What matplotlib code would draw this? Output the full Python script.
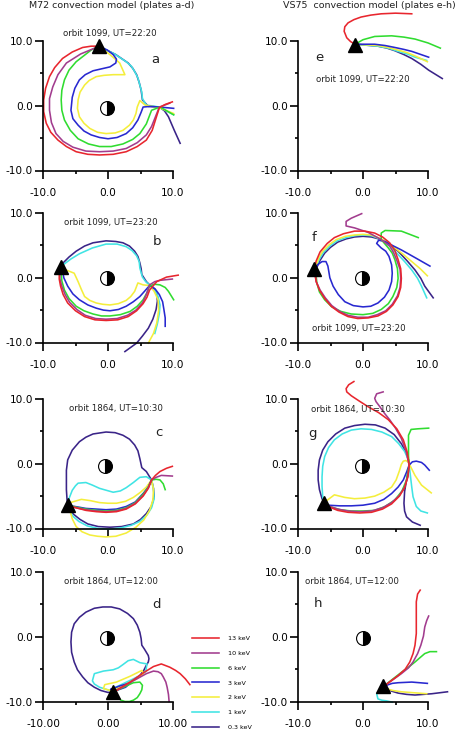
import matplotlib.pyplot as plt

plt.rcParams['font.family'] = ['DejaVu Sans']

ENERGIES = ["13 keV", "10 keV", "6 keV", "3 keV", "2 keV", "1 keV", "0.3 keV"]
COLOURS = ["#e8262e", "#a23c8e", "#30dc30", "#2828d0", "#f4ee3c", "#40e4e4", "#3a2488"]
DRAW_ORDER = ["0.3 keV", "1 keV", "2 keV", "3 keV", "6 keV", "10 keV", "13 keV"]

TICKS = [-10, 0, 10]
TICK_LABELS = ["-10.0", "0.0", "10.0"]
TICK_LABELS_D = ["-10.00", "0.00", "10.00"]
Y_TICK_LABELS = ["-10.0", "0.0", "10.0"]

# M72 model, plates a-d
panel_a = {
    "13 keV": ([-1.4, -2.6, -3.9, -5.5, -7.0, -8.2, -9.0, -9.6, -9.9, -9.9, -9.5, -8.8, -7.7, -6.4, -4.9,
                -3.1, -1.3, 0.8, 2.8, 4.5, 5.9, 6.8, 7.3, 7.9, 8.8, 9.9],
               [9.2, 9.2, 9.0, 8.3, 7.3, 5.9, 4.5, 2.7, 0.9, -0.9, -2.7, -4.1, -5.3, -6.3, -7.1,
                -7.5, -7.6, -7.5, -7.1, -6.3, -5.3, -3.8, -2.2, -0.3, 0.2, 0.6]),
    "10 keV": ([-1.4, -1.8, -4.2, -6.4, -7.7, -8.5, -9.0, -9.0, -8.7, -8.0, -6.9, -5.4, -3.4, -1.3, 0.8,
                2.8, 4.5, 5.9, 6.7, 7.1, 7.9, 9.5],
               [9.2, 9.0, 8.0, 6.6, 4.8, 2.9, 1.1, -0.7, -2.6, -4.3, -5.5, -6.4, -7.0, -7.1, -7.0,
                -6.6, -5.7, -4.5, -3.2, -2.2, -0.2, 0.4]),
    "6 keV": ([-1.4, -2.6, -4.9, -6.0, -6.7, -7.1, -7.2, -7.1, -6.7, -5.8, -4.6, -3.0, -1.3, 0.5, 2.3,
               3.8, 4.9, 5.9, 6.7, 8.0, 10.1],
              [9.2, 8.6, 6.8, 5.5, 4.0, 2.4, 0.9, -0.7, -2.2, -3.8, -5.1, -5.9, -6.3, -6.3, -5.9,
               -5.2, -4.3, -2.8, -0.7, -0.2, -1.4]),
    "3 keV": ([-1.4, -0.1, 0.8, 1.3, 1.2, 0.3, -1.0, -2.3, -3.5, -4.4, -5.1, -5.5, -5.7, -5.4, -4.6,
               -3.7, -2.6, -1.3, 0.0, 1.4, 2.8, 3.8, 4.6, 5.1, 5.4, 6.5, 7.9, 10.1],
              [9.2, 8.6, 7.9, 7.2, 6.6, 6.0, 5.7, 5.4, 4.8, 4.0, 2.7, 1.3, -0.7, -2.0, -3.0,
               -3.9, -4.5, -4.9, -5.1, -4.9, -4.3, -3.4, -2.2, -1.0, -0.2, -0.1, -0.2, -0.4]),
    "2 keV": ([-1.4, 0.3, 1.8, 2.6, 0.8, -0.6, -1.8, -2.9, -3.6, -4.3, -4.6, -4.7, -4.4, -3.7, -2.8,
               -1.6, -0.3, 1.1, 2.3, 3.3, 3.9, 4.3, 4.5, 4.9, 5.7, 7.9, 10.1],
              [9.2, 7.9, 6.6, 4.8, 4.8, 4.7, 4.5, 3.9, 3.2, 2.1, 0.9, -0.4, -1.7, -2.7, -3.5,
               -4.1, -4.3, -4.2, -3.8, -3.0, -2.2, -1.2, -0.2, 0.8, 0.1, -0.3, -1.2]),
    "1 keV": ([-1.4, 1.0, 2.8, 3.6, 4.1, 4.6, 4.9, 5.2, 5.3, 5.9, 7.9, 10.1],
              [9.2, 8.0, 6.8, 6.1, 5.3, 4.3, 3.2, 2.1, 1.1, 0.1, -0.2, -1.4]),
    "0.3 keV": ([-1.4, 1.2, 3.1, 3.8, 4.4, 4.8, 5.1, 5.3, 6.2, 7.9, 8.7, 9.3, 10.2, 11.1],
                [9.2, 7.9, 6.6, 5.8, 4.8, 3.6, 2.4, 0.9, -0.1, -0.2, -0.8, -1.7, -3.8, -5.8]),
}
start_a = (-1.4, 9.3)

panel_b = {
    "13 keV": ([-7.2, -7.5, -7.5, -7.3, -6.9, -6.2, -5.0, -3.6, -2.0, -0.3, 1.5, 3.1, 4.4, 5.4, 6.0,
                6.4, 7.5, 9.0, 10.8],
               [1.6, 1.0, -0.2, -1.3, -2.6, -3.9, -5.1, -6.0, -6.5, -6.6, -6.5, -6.0, -5.1, -4.0, -3.0,
                -1.9, -0.6, 0.1, 0.4]),
    "10 keV": ([-7.2, -7.4, -7.4, -7.1, -6.6, -5.9, -4.8, -3.5, -1.9, -0.3, 1.4, 3.0, 4.3, 5.3, 5.9,
                6.4, 7.2, 8.0, 9.9],
               [1.6, 1.0, -0.2, -1.3, -2.6, -3.8, -4.9, -5.8, -6.3, -6.4, -6.3, -5.8, -5.0, -3.9, -2.6,
                -1.1, -0.6, -0.4, -0.2]),
    "6 keV": ([-7.2, -7.2, -7.1, -6.7, -6.0, -4.9, -3.7, -2.3, -1.0, 0.3, 1.9, 3.4, 4.5, 5.4, 6.0,
               6.4, 7.1, 8.0, 8.8, 9.3, 10.1],
              [1.6, 1.0, -0.5, -1.9, -3.2, -4.4, -5.1, -5.6, -5.9, -5.9, -5.7, -5.2, -4.4, -3.4, -2.3,
               -1.3, -1.0, -1.1, -1.5, -2.1, -3.4]),
    "3 keV": ([-7.2, -7.0, -6.8, -6.2, -5.4, -4.4, -3.1, -1.8, -0.7, 0.3, 1.6, 2.8, 3.9, 4.9, 5.7,
               6.4, 7.3, 7.9, 8.4, 8.6, 8.8, 8.8],
              [1.6, 1.2, 0.0, -1.3, -2.5, -3.4, -4.2, -4.7, -5.0, -5.1, -4.9, -4.4, -3.7, -2.9, -2.0,
               -1.2, -1.8, -2.6, -3.7, -4.9, -6.2, -7.5]),
    "2 keV": ([-7.2, -6.7, -5.2, -4.6, -4.1, -3.6, -2.8, -1.8, -0.8, 0.3, 1.6, 2.8, 3.5, 4.1, 4.6,
               5.4, 6.4, 7.1, 7.7, 7.8, 7.5, 7.0, 6.2],
              [1.6, 1.3, 0.7, -0.6, -1.8, -2.9, -3.5, -3.9, -4.1, -4.2, -4.0, -3.5, -2.9, -2.1, -0.8,
               -1.1, -1.2, -2.1, -3.4, -5.0, -7.0, -8.6, -10.1]),
    "1 keV": ([-7.2, -6.9, -5.7, -4.4, -2.4, -0.3, 1.4, 2.8, 3.7, 4.4, 4.8, 4.9, 5.3, 5.8, 6.4, 7.2,
               7.7, 8.0, 7.9, 7.6, 7.2],
              [1.6, 2.0, 2.9, 3.7, 4.6, 5.2, 5.2, 4.8, 4.2, 3.4, 2.5, 1.5, 0.1, -0.6, -1.1, -1.8,
               -2.9, -4.2, -5.5, -7.1, -8.6]),
    "0.3 keV": ([-7.2, -7.0, -6.0, -4.9, -3.6, -2.3, -0.3, 1.2, 2.3, 3.3, 4.1, 4.6, 4.9, 5.1, 5.2,
                 5.9, 6.4, 7.2, 7.5, 7.6, 7.4, 6.9, 6.2, 5.3, 4.4, 2.6],
                [1.6, 2.2, 3.2, 4.1, 4.9, 5.4, 5.7, 5.6, 5.4, 4.9, 4.1, 3.3, 2.3, 1.4, 0.5,
                 -0.6, -1.1, -1.7, -2.4, -3.6, -4.9, -6.4, -7.8, -9.0, -10.1, -11.4]),
}
start_b = (-7.2, 1.6)

panel_c = {
    "13 keV": ([-6.2, -5.7, -4.5, -3.4, -1.8, -0.3, 1.3, 2.8, 4.2, 5.4, 6.2, 6.7, 7.3, 8.0, 9.0, 9.9],
               [-6.3, -6.6, -6.9, -7.2, -7.4, -7.5, -7.4, -7.0, -6.2, -5.0, -3.8, -2.5, -1.8, -1.2, -0.7, -0.4]),
    "10 keV": ([-6.2, -5.7, -4.5, -3.4, -1.8, -0.3, 1.3, 2.8, 4.2, 5.4, 6.2, 6.7, 7.4, 8.2, 9.9],
               [-6.3, -6.6, -6.9, -7.1, -7.3, -7.4, -7.3, -6.9, -6.1, -4.9, -3.7, -2.5, -2.1, -1.8, -1.9]),
    "6 keV": ([-6.2, -5.7, -4.5, -3.4, -1.8, -0.3, 1.3, 2.8, 4.2, 5.4, 6.2, 6.7, 7.4, 8.0, 8.5, 8.8],
              [-6.3, -6.5, -6.8, -7.0, -7.2, -7.3, -7.2, -6.8, -6.0, -4.7, -3.6, -2.5, -2.4, -2.5, -3.1, -4.0]),
    "3 keV": ([-6.2, -5.7, -4.5, -3.4, -1.8, -0.3, 1.3, 2.8, 4.2, 5.4, 6.2, 6.7],
              [-6.3, -6.5, -6.7, -6.9, -7.0, -7.1, -7.0, -6.6, -5.9, -4.6, -3.6, -2.5]),
    "2 keV": ([-6.2, -5.8, -4.1, -2.7, -1.3, 0.0, 1.3, 2.7, 3.9, 5.0, 5.9, 6.7, 7.0, 6.9, 6.4, 5.5, 4.3,
               2.8, 1.2, -0.3, -1.6, -2.8, -4.0, -4.9, -5.5, -5.9, -6.2],
              [-6.3, -6.0, -5.5, -5.7, -6.0, -6.1, -6.1, -5.8, -5.2, -4.4, -3.6, -2.5, -4.0, -5.6, -7.2, -8.7, -9.8,
               -10.7, -11.2, -11.3, -11.2, -11.0, -10.5, -9.7, -8.5, -7.1, -6.3]),
    "1 keV": ([-6.2, -6.2, -5.5, -5.0, -4.6, -3.4, -2.4, -1.3, 0.8, 1.9, 2.8, 3.9, 4.9, 5.9, 6.7, 7.0,
               7.1, 6.7, 6.0, 4.9, 3.6, 2.0, 0.3, -1.5, -3.2, -4.5, -5.4, -5.9, -6.1, -6.2],
              [-6.3, -5.9, -4.1, -3.4, -3.0, -2.9, -3.3, -3.8, -4.4, -4.2, -3.7, -2.9, -2.1, -2.0, -2.5, -3.9,
               -5.4, -6.8, -7.9, -8.9, -9.5, -9.9, -10.1, -10.0, -9.6, -8.9, -8.1, -7.3, -6.7, -6.3]),
    "0.3 keV": ([-6.2, -6.3, -6.4, -6.4, -6.4, -6.2, -5.5, -4.4, -3.4, -2.3, -0.3, 1.1, 2.3, 3.3, 4.1,
                 4.6, 4.9, 5.2, 5.9, 6.7, 7.0, 7.1, 6.7, 5.9, 5.0, 3.9, 2.1, 0.3, -1.5, -3.1, -4.3,
                 -5.3, -5.9, -6.2],
                [-6.3, -5.6, -4.0, -2.5, -1.0, 0.6, 2.1, 3.4, 4.1, 4.6, 4.9, 4.8, 4.4, 3.8, 2.9,
                 2.0, 0.8, -0.6, -1.2, -2.5, -3.8, -5.1, -6.5, -7.7, -8.6, -9.3, -9.7, -9.8, -9.7, -9.3, -8.6,
                 -7.8, -7.0, -6.4]),
}
start_c = (-6.2, -6.3)

panel_d = {
    "13 keV": ([0.8, 1.3, 3.4, 5.4, 7.0, 8.2, 9.5, 10.4, 11.1, 11.9, 12.6],
               [-8.5, -8.3, -7.0, -5.6, -4.6, -4.2, -4.7, -5.2, -5.7, -6.5, -7.4]),
    "10 keV": ([0.8, 1.3, 3.9, 5.9, 7.0, 7.7, 8.2, 8.5, 8.9, 9.1, 9.3, 9.4],
               [-8.5, -8.3, -6.8, -5.7, -5.3, -5.4, -5.7, -6.2, -7.0, -7.8, -8.9, -10.0]),
    "6 keV": ([0.8, 1.0, 1.5, 2.0, 2.6, 3.3, 3.9, 4.5, 4.9, 5.2, 5.3, 4.9, 3.9, 2.8, 1.3, 0.8],
              [-8.5, -8.6, -9.3, -9.8, -10.0, -10.0, -9.8, -9.4, -8.8, -8.2, -7.5, -7.0, -7.1, -7.6, -8.3, -8.5]),
    "3 keV": ([0.5, 1.8, 3.5, 2.7, 1.0, 0.5],
              [-8.1, -7.6, -7.1, -7.8, -8.4, -8.1]),
    "2 keV": ([0.3, -0.7, -0.5, 1.3, 3.4, 5.2, 5.5, 4.4, 2.8, 1.0, 0.3],
              [-8.3, -8.0, -7.4, -7.0, -6.1, -5.2, -5.7, -6.5, -7.3, -8.1, -8.3]),
    "1 keV": ([0.3, -1.3, -2.1, -2.4, -2.1, -0.7, 0.8, 1.6, 2.3, 3.1, 3.9, 4.9, 6.0, 5.8, 4.9, 3.9, 1.8,
               0.5, 0.3],
              [-8.3, -7.8, -7.3, -6.8, -5.7, -5.3, -5.1, -4.8, -4.3, -3.7, -3.5, -4.0, -4.2, -5.4, -6.0, -6.5,
               -7.5, -8.1, -8.3]),
    "0.3 keV": ([0.8, 0.0, -1.1, -2.1, -3.1, -3.9, -4.7, -5.2, -5.6, -5.7, -5.6, -5.2, -4.4, -3.4, -2.1,
                 -0.8, 0.5, 1.8, 3.0, 3.9, 4.5, 4.9, 5.1, 5.2, 5.6, 5.9, 6.2, 6.3, 6.2, 5.9, 5.5,
                 4.9, 3.9, 2.8, 1.8, 1.0, 0.8],
                [-8.5, -8.6, -8.3, -7.8, -7.1, -6.2, -5.1, -3.9, -2.4, -0.8, 0.7, 2.0, 3.0, 3.8, 4.4,
                 4.6, 4.6, 4.3, 3.6, 2.8, 1.8, 0.7, -0.3, -1.3, -1.9, -2.4, -2.9, -3.4, -3.9, -4.4, -5.2,
                 -6.0, -6.7, -7.3, -7.8, -8.3, -8.5]),
}
start_d = (0.8, -8.5)

# VS75 model, plates e-h
panel_e = {
    "13 keV": ([-1.2, -1.9, -2.5, -2.9, -2.8, -2.3, -1.4, -0.3, 1.2, 2.8, 5.0, 7.5],
               [9.5, 9.9, 10.5, 11.5, 12.2, 12.8, 13.3, 13.7, 14.0, 14.2, 14.3, 14.2]),
    "6 keV": ([-1.2, 0.0, 1.8, 4.4, 6.3, 8.0, 10.0, 11.9],
              [9.5, 10.2, 10.7, 10.8, 10.6, 10.3, 9.7, 8.9]),
    "3 keV": ([-1.2, 1.8, 3.4, 4.9, 6.3, 7.5, 10.1],
              [9.5, 9.5, 9.3, 9.0, 8.7, 8.4, 7.5]),
    "2 keV": ([-1.2, 2.3, 3.9, 5.4, 6.8, 8.0, 9.9],
              [9.5, 9.3, 9.0, 8.6, 8.2, 7.7, 6.8]),
    "1 keV": ([-1.2, 2.3, 3.9, 5.4, 6.8, 8.0, 9.8],
              [9.5, 9.2, 8.9, 8.4, 8.0, 7.5, 7.0]),
    "0.3 keV": ([-1.2, 2.3, 3.7, 4.9, 6.3, 7.5, 8.9, 10.1, 12.2],
                [9.5, 9.2, 8.9, 8.5, 7.9, 7.3, 6.4, 5.5, 4.2]),
}
start_e = (-1.2, 9.4)

panel_f = {
    "13 keV": ([-7.5, -7.2, -6.6, -5.5, -4.4, -3.0, -1.3, 0.3, 1.8, 3.0, 4.1, 4.9, 5.4, 5.8, 5.9, 5.8,
                5.4, 4.6, 3.6, 2.3, 0.8, -0.8, -2.3, -3.7, -4.9, -5.9, -6.7, -7.2, -7.4, -7.5],
               [1.4, 2.6, 4.0, 5.3, 6.2, 6.8, 7.2, 7.2, 6.9, 6.3, 5.4, 4.2, 2.8, 1.4, -0.1, -1.5,
                -2.9, -4.2, -5.2, -5.9, -6.2, -6.3, -6.0, -5.3, -4.4, -3.2, -1.9, -0.6, 0.7, 1.4]),
    "10 keV": ([-7.5, -7.4, -7.2, -6.6, -5.8, -4.8, -3.6, -2.3, -0.8, 0.8, 2.2, 3.5, 4.5, 5.3, 5.7,
                5.8, 5.7, 5.2, 4.7, 4.1, 2.8, 0.8, -1.3, -2.6, -2.6, -1.8, -0.2],
               [1.4, 0.7, -0.6, -1.9, -3.1, -4.3, -5.2, -5.8, -6.1, -6.1, -5.7, -5.1, -4.1, -2.8, -1.5,
                -0.1, 1.3, 2.7, 3.9, 4.9, 5.9, 7.0, 7.7, 8.0, 8.7, 9.2, 9.9]),
    "6 keV": ([-7.5, -7.2, -7.2, -7.1, -6.7, -5.9, -4.8, -3.4, -1.8, 0.0, 1.5, 2.8, 3.9, 4.6, 5.2,
               5.4, 5.3, 4.9, 4.5, 3.9, 2.8, 2.8, 3.4, 5.9, 8.5],
              [1.4, 1.2, 0.2, -0.8, -2.2, -3.4, -4.5, -5.2, -5.6, -5.7, -5.5, -4.9, -4.0, -2.9, -1.5,
               -0.1, 1.4, 2.8, 3.8, 4.6, 5.9, 6.9, 7.3, 7.2, 6.2]),
    "3 keV": ([-7.5, -7.0, -6.3, -5.7, -5.4, -5.3, -5.1, -4.6, -3.8, -2.8, -1.5, 0.0, 1.2, 2.3, 3.3,
               4.0, 4.4, 4.5, 4.4, 4.0, 3.5, 2.8, 2.1, 2.4, 3.4, 4.7, 5.9, 8.2, 10.3],
              [1.4, 2.0, 2.5, 2.5, 1.8, 1.2, 0.0, -1.3, -2.6, -3.7, -4.3, -4.5, -4.4, -3.9, -3.0,
               -1.9, -0.6, 0.7, 2.0, 3.3, 4.1, 4.6, 5.3, 5.8, 5.6, 4.9, 4.3, 3.0, 1.8]),
    "2 keV": ([-7.5, -7.2, -6.8, -6.2, -5.2, -4.1, -2.7, -1.3, 0.0, 1.3, 2.8, 3.9, 4.9, 6.2, 7.5, 8.8, 9.9],
              [1.4, 1.9, 3.1, 4.1, 5.1, 5.9, 6.4, 6.6, 6.7, 6.6, 6.0, 5.4, 4.6, 3.6, 2.5, 1.4, 0.3]),
    "1 keV": ([-7.5, -7.2, -6.7, -6.1, -5.1, -4.0, -2.6, -1.3, 0.0, 1.3, 2.8, 4.1, 5.2, 6.4, 7.5, 8.4,
               9.0, 9.8],
              [1.4, 1.8, 2.9, 3.9, 4.9, 5.7, 6.2, 6.5, 6.6, 6.5, 5.9, 4.9, 3.8, 2.5, 1.2, -0.1,
               -1.3, -3.1]),
    "0.3 keV": ([-7.5, -7.1, -6.6, -5.9, -5.0, -3.9, -2.6, -1.3, 0.0, 1.3, 2.8, 4.2, 5.4, 6.8, 8.0, 8.9,
                 9.5, 10.8],
                [1.4, 1.6, 2.7, 3.8, 4.7, 5.5, 6.0, 6.3, 6.4, 6.3, 5.9, 5.0, 4.1, 2.6, 1.2, -0.1,
                 -1.3, -3.1]),
}
start_f = (-7.5, 1.4)

panel_g = {
    "13 keV": ([-6.0, -5.4, -3.9, -2.3, -0.5, 1.3, 3.0, 4.4, 5.6, 6.4, 6.9, 7.1, 6.8, 6.2, 5.2, 3.9,
                2.4, 0.8, -0.6, -1.8, -2.5, -2.6, -2.2, -1.4],
               [-6.0, -6.6, -7.2, -7.5, -7.6, -7.5, -7.0, -6.2, -5.0, -3.7, -2.0, -0.2, 1.8, 3.7, 5.4, 6.8,
                7.9, 8.8, 9.7, 10.5, 11.1, 11.6, 12.2, 12.7]),
    "10 keV": ([-6.0, -5.4, -3.9, -2.3, -0.5, 1.3, 3.0, 4.4, 5.6, 6.4, 6.9, 7.1, 6.6, 5.9, 5.0, 4.1,
                3.3, 2.6, 2.0, 1.8, 2.1, 3.1],
               [-6.0, -6.5, -7.0, -7.3, -7.4, -7.3, -6.8, -6.0, -4.9, -3.6, -2.0, -0.2, 2.0, 3.9, 5.5, 6.8,
                7.8, 8.8, 9.6, 10.1, 10.8, 11.1]),
    "6 keV": ([-6.0, -5.2, -3.5, -1.8, 0.0, 1.8, 3.4, 4.9, 6.0, 6.7, 7.1, 7.0, 7.0, 7.0, 7.4, 8.5, 10.1],
              [-6.0, -6.6, -7.1, -7.3, -7.3, -7.2, -6.6, -5.6, -4.2, -2.5, -0.2, 1.2, 2.6, 4.4, 5.3, 5.4, 5.5]),
    "3 keV": ([-6.0, -5.4, -3.6, -1.8, 0.0, 1.8, 3.2, 4.4, 5.4, 6.2, 6.7, 7.1, 7.6, 8.2, 9.0, 9.5, 10.2],
              [-6.0, -6.4, -6.5, -6.5, -6.4, -6.1, -5.5, -4.6, -3.6, -2.5, -1.3, -0.2, 0.3, 0.4, 0.2, -0.2, -1.0]),
    "2 keV": ([-6.0, -5.2, -4.4, -2.8, -1.3, 0.3, 1.8, 3.2, 4.4, 5.1, 5.6, 5.9, 6.2, 6.6, 7.0, 7.5,
               8.0, 9.0, 10.5],
              [-6.0, -5.4, -4.8, -5.2, -5.4, -5.3, -5.0, -4.4, -3.6, -2.5, -1.1, -0.1, 0.4, 0.5, 0.2, -0.8,
               -1.8, -3.3, -4.5]),
    "1 keV": ([-6.0, -6.2, -6.3, -6.3, -6.2, -5.9, -5.3, -4.4, -3.2, -1.8, -0.3, 1.3, 2.9, 4.4, 5.5,
               6.4, 6.9, 7.1, 7.3, 7.5, 7.7, 8.2, 8.9, 9.9],
              [-6.0, -5.1, -3.5, -2.0, -0.4, 1.1, 2.5, 3.7, 4.6, 5.2, 5.4, 5.3, 4.9, 4.2, 3.1,
               1.9, 0.8, -0.2, -1.9, -3.6, -5.1, -6.6, -7.3, -7.6]),
    "0.3 keV": ([-6.0, -6.3, -6.7, -6.9, -6.9, -6.7, -6.2, -5.4, -4.2, -2.8, -1.3, 0.3, 1.9, 3.4, 4.8,
                 5.9, 6.6, 7.0, 7.1, 6.9, 6.7, 6.4, 6.3, 6.4, 6.7, 7.6, 8.8],
                [-6.0, -5.4, -4.0, -2.5, -1.0, 0.6, 2.1, 3.4, 4.6, 5.5, 5.9, 6.1, 6.0, 5.5, 4.5,
                 3.1, 1.8, 0.6, -0.2, -1.4, -2.5, -4.3, -6.1, -7.3, -8.2, -9.0, -9.5]),
}
start_g = (-6.0, -6.0)

panel_h = {
    "13 keV": ([3.0, 3.4, 5.4, 6.5, 7.2, 7.7, 8.0, 8.2, 8.2, 8.2, 8.4, 8.8],
               [-7.6, -7.5, -6.0, -5.0, -3.9, -2.6, -1.3, 0.5, 2.3, 5.4, 6.6, 7.2]),
    "10 keV": ([3.0, 3.4, 5.9, 7.0, 7.7, 8.4, 8.9, 9.3, 9.5, 9.8, 10.1],
               [-7.6, -7.5, -5.7, -4.8, -3.9, -2.6, -1.3, 0.1, 1.5, 2.5, 3.2]),
    "6 keV": ([3.0, 3.6, 5.9, 7.0, 8.0, 8.8, 9.5, 10.3, 11.3],
              [-7.6, -7.3, -5.5, -4.7, -3.9, -3.2, -2.6, -2.3, -2.3]),
    "3 keV": ([3.0, 3.6, 4.5, 5.4, 7.5, 9.9],
              [-7.6, -7.5, -7.2, -7.1, -7.0, -7.2]),
    "2 keV": ([3.0, 3.5, 4.6, 5.9, 7.2, 8.5, 9.8],
              [-7.6, -8.0, -8.3, -8.5, -8.6, -8.7, -8.8]),
    "1 keV": ([3.0, 3.1, 2.5, 2.1, 2.3, 2.9, 3.6, 4.5],
              [-7.6, -8.1, -8.4, -8.8, -9.6, -9.8, -9.9, -10.1]),
    "0.3 keV": ([3.0, 3.4, 4.4, 5.4, 6.7, 8.0, 10.6, 13.0],
                [-7.6, -7.9, -8.4, -8.7, -8.9, -9.0, -8.8, -8.5]),
}
start_h = (3.0, -7.6)

EARTH = {"a": (-0.2, -0.4), "b": (-0.1, 0.0), "c": (-0.4, -0.3), "d": (-0.2, -0.2),
         "f": (-0.1, 0.0), "g": (-0.1, -0.4), "h": (0.0, -0.2)}

ORBIT = {"a": "orbit 1099, UT=22:20", "b": "orbit 1099, UT=23:20",
         "c": "orbit 1864, UT=10:30", "d": "orbit 1864, UT=12:00",
         "e": "orbit 1099, UT=22:20", "f": "orbit 1099, UT=23:20",
         "g": "orbit 1864, UT=10:30", "h": "orbit 1864, UT=12:00"}
ORBIT_POS = {"a": (0.3, 11.1, "center"), "b": (0.4, 8.6, "center"),
             "c": (1.2, 8.6, "center"), "d": (0.5, 8.6, "center"),
             "e": (-7.3, 4.0, "left"), "f": (-7.8, -7.8, "left"),
             "g": (-8.0, 8.4, "left"), "h": (-8.9, 8.6, "left")}
LETTER_POS = {"a": (7.3, 7.2), "b": (7.6, 5.6), "c": (7.8, 4.8), "d": (7.4, 5.0),
              "e": (-6.7, 7.5), "f": (-7.6, 6.2), "g": (-7.8, 4.7), "h": (-7.0, 5.2)}

W, H = 469, 753
fig = plt.figure(figsize=(W / 100, H / 100), dpi=100)

row_top = [41, 213, 399, 572]
col_left = [43, 298]
panels = {"a": (0, 0, panel_a, start_a), "b": (0, 1, panel_b, start_b),
          "c": (0, 2, panel_c, start_c), "d": (0, 3, panel_d, start_d),
          "e": (1, 0, panel_e, start_e), "f": (1, 1, panel_f, start_f),
          "g": (1, 2, panel_g, start_g), "h": (1, 3, panel_h, start_h)}

axes = {}
for key, (col, row, curves, start) in panels.items():
    left = col_left[col] / W
    bottom = 1 - (row_top[row] + 129.5) / H
    ax = fig.add_axes([left, bottom, 130 / W, 129.5 / H])
    axes[key] = ax
    ax.set_xlim(-10, 10)
    ax.set_ylim(-10, 10)
    ax.patch.set_visible(False)
    for s in ["top", "right"]:
        ax.spines[s].set_visible(False)
    for s in ["left", "bottom"]:
        ax.spines[s].set_linewidth(1.2)
    ax.set_xticks(TICKS)
    ax.set_xticklabels(TICK_LABELS_D if key == "d" else TICK_LABELS)
    ax.set_yticks(TICKS)
    ax.set_yticklabels(Y_TICK_LABELS)
    ax.set_xticks([-5, 5], minor=True)
    ax.set_yticks([-5, 5], minor=True)
    ax.tick_params(which="major", direction="out", length=5.8, width=1.2, labelsize=7.6)
    ax.tick_params(which="minor", direction="out", length=2.4, width=1.2)
    ax.tick_params(axis="x", which="major", pad=7)
    ax.tick_params(axis="y", which="major", pad=1.5)

    for name in DRAW_ORDER:
        if name in curves:
            xs, ys = curves[name]
            ax.plot(xs, ys, color=COLOURS[ENERGIES.index(name)], lw=1.15,
                    clip_on=False, solid_joinstyle="round", label=name)
    ax.plot(start[0], start[1], marker="^", color="black", ms=9.5,
            clip_on=False, zorder=10)
    if key in EARTH:
        ex, ey = EARTH[key]
        ax.plot(ex, ey, marker="o", ms=10, fillstyle="right",
                markerfacecolor="black", markerfacecoloralt="white",
                markeredgecolor="black", mew=0.8, zorder=9)

    tx, ty, ha = ORBIT_POS[key]
    ax.text(tx, ty, ORBIT[key], ha=ha, va="center", fontsize=6.2, color="#222222")
    lx, ly = LETTER_POS[key]
    ax.text(lx, ly, key, ha="center", va="center", fontsize=9.5, color="#222222")

fig.text(112 / W, 1 - 0.5 / H, "M72 convection model (plates a-d)",
         ha="center", va="top", fontsize=6.8, color="#222222")
fig.text(369 / W, 1 - 0.5 / H, "VS75  convection model (plates e-h)",
         ha="center", va="top", fontsize=6.8, color="#222222")

# legend with the energy colours
ax_d = axes["d"]
handles = [plt.Line2D([], [], color=c, lw=1.15) for c in COLOURS]
ax_d.legend(handles, ENERGIES, loc="upper left",
            bbox_to_anchor=(192 / W, 1 - 636 / H), bbox_transform=fig.transFigure,
            frameon=False, fontsize=4.6, labelspacing=1.45, handlelength=4.3,
            handletextpad=1.3, borderpad=0, borderaxespad=0)

fig.savefig("out.png", dpi=100)
